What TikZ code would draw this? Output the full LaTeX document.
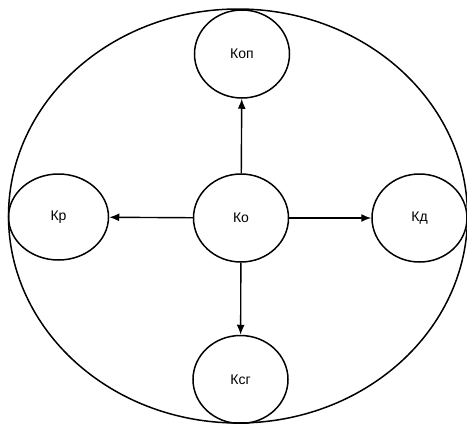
\documentclass[tikz,border=0pt]{standalone}
\usepackage{fontspec}
\setmainfont{Liberation Sans}
\usetikzlibrary{shapes.geometric,arrows.meta}
\begin{document}
\begin{tikzpicture}[x=1pt,y=-1pt,
  ring/.style={ellipse,draw,line width=1.5pt,inner sep=0pt,
    minimum width=95pt,minimum height=88pt,font=\fontsize{14}{16}\selectfont},
  link/.style={line width=1.4pt,-{Latex[length=10pt,width=8pt]}}]
\useasboundingbox (0,0) rectangle (467,424);
% enclosing ellipse
\node[ellipse,draw,line width=1.5pt,inner sep=0pt,
  minimum width=459pt,minimum height=414pt] (outer) at (238,216) {};
% components
\node[ring] (ko)  at (241,218) {Ко};
\node[ring] (kop) at (242,54)  {Коп};
\node[ring,minimum width=100pt,minimum height=86pt] (kr) at (58.5,217) {Кр};
\node[ring] (kd)  at (419.5,218) {Кд};
\node[ring] (ksg) at (240.5,379.5) {Ксг};
% relations
\draw[link] (ko) -- (kop);
\draw[link] (ko) -- (kr);
\draw[link] (ko) -- (kd);
\draw[link] (ko) -- (ksg);
\end{tikzpicture}
\end{document}
